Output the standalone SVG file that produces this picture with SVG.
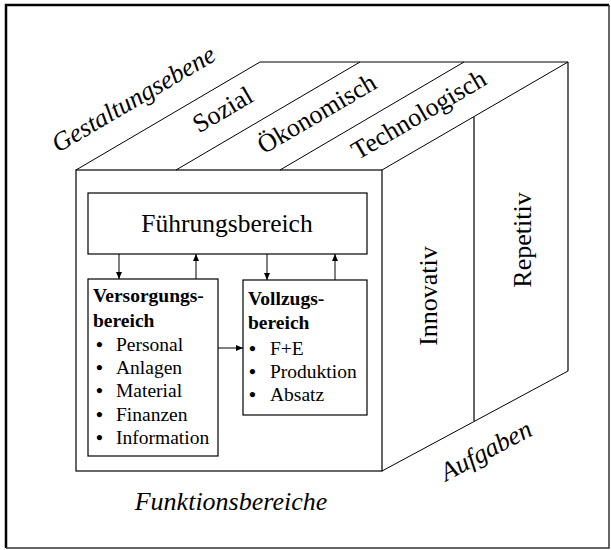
<svg xmlns="http://www.w3.org/2000/svg" width="611" height="550" viewBox="0 0 611 550">
  <style>
    .edge { fill: none; stroke: #000; stroke-width: 1.2; }
    .slant { fill: none; stroke: #000; stroke-width: 1; }
    .box { fill: #fff; stroke: #000; stroke-width: 1.2; }
    .t { font-family: "Liberation Serif", "Times New Roman", serif; fill: #000; }
    .big { font-size: 26px; }
    .it { font-style: italic; }
    .head { font-size: 19.5px; font-weight: bold; }
    .item { font-size: 19.5px; }
    .dot { font-weight: bold; }
    .link { fill: none; stroke: #000; stroke-width: 1; marker-end: url(#tip); }
  </style>
  <defs>
    <marker id="tip" markerUnits="userSpaceOnUse" markerWidth="8" markerHeight="6" refX="7" refY="3" orient="auto">
      <path d="M0,0 L7,3 L0,6 z" fill="#000"/>
    </marker>
  </defs>

  <rect width="611" height="550" fill="#fff"/>

  <!-- outer frame -->
  <g id="frame">
    <path d="M6,548 V5 H609" fill="none" stroke="#000" stroke-width="2.5"/>
    <path d="M609,5 V548 H6" fill="none" stroke="#333" stroke-width="1.5"/>
  </g>

  <!-- cube: front face, top face and side face -->
  <g id="cube">
    <rect class="edge" x="76" y="170" width="306" height="301"/>
    <path class="slant" d="M76,170 L260,62 H568 M176,170 L360,62 M280,170 L464,62 M382,170 L568,62"/>
    <path class="slant" d="M382,471 L568,371"/>
    <path class="edge" d="M568,62 V371 M474,117 V421"/>
  </g>

  <!-- top face labels -->
  <g id="gestaltung">
    <text class="t big it" transform="translate(58,153) rotate(-30.4)">Gestaltungsebene</text>
    <text class="t big" text-anchor="middle" transform="translate(227,117) rotate(-30.4)">Sozial</text>
    <text class="t big" text-anchor="middle" transform="translate(321,121) rotate(-30.4)">Ökonomisch</text>
    <text class="t big" text-anchor="middle" transform="translate(423,122) rotate(-30.4)">Technologisch</text>
  </g>

  <!-- side face labels -->
  <g id="aufgaben">
    <text class="t big" text-anchor="middle" transform="translate(437,296) rotate(-90)">Innovativ</text>
    <text class="t big" text-anchor="middle" transform="translate(531,240) rotate(-90)">Repetitiv</text>
    <text class="t big it" text-anchor="middle" transform="translate(490,458) rotate(-28)">Aufgaben</text>
  </g>

  <text class="t big it" x="231" y="510" text-anchor="middle">Funktionsbereiche</text>

  <!-- nodes -->
  <g id="fuehrung">
    <rect class="box" x="88" y="193" width="279" height="61"/>
    <text class="t" x="227" y="232" font-size="25.5" text-anchor="middle">Führungsbereich</text>
  </g>

  <g id="versorgung">
    <rect class="box" x="88" y="279" width="130" height="177"/>
    <text class="t head" x="93" y="302">Versorgungs-</text>
    <text class="t head" x="93" y="327">bereich</text>
    <g class="t item">
      <text x="96" y="350.5"><tspan class="dot">•</tspan><tspan x="116">Personal</tspan></text>
      <text x="96" y="374"><tspan class="dot">•</tspan><tspan x="116">Anlagen</tspan></text>
      <text x="96" y="397"><tspan class="dot">•</tspan><tspan x="116">Material</tspan></text>
      <text x="96" y="420.5"><tspan class="dot">•</tspan><tspan x="116">Finanzen</tspan></text>
      <text x="96" y="444"><tspan class="dot">•</tspan><tspan x="116">Information</tspan></text>
    </g>
  </g>

  <g id="vollzug">
    <rect class="box" x="243" y="280" width="124" height="135"/>
    <text class="t head" x="248" y="305">Vollzugs-</text>
    <text class="t head" x="248" y="329">bereich</text>
    <g class="t item">
      <text x="249" y="355"><tspan class="dot">•</tspan><tspan x="270">F+E</tspan></text>
      <text x="249" y="378"><tspan class="dot">•</tspan><tspan x="270">Produktion</tspan></text>
      <text x="249" y="401"><tspan class="dot">•</tspan><tspan x="270">Absatz</tspan></text>
    </g>
  </g>

  <!-- connectors -->
  <g id="connectors">
    <path class="link" d="M119,254 V279"/>
    <path class="link" d="M196,279 V254"/>
    <path class="link" d="M267,254 V280"/>
    <path class="link" d="M335,280 V254"/>
    <path class="link" d="M218,348 H243"/>
  </g>
</svg>
